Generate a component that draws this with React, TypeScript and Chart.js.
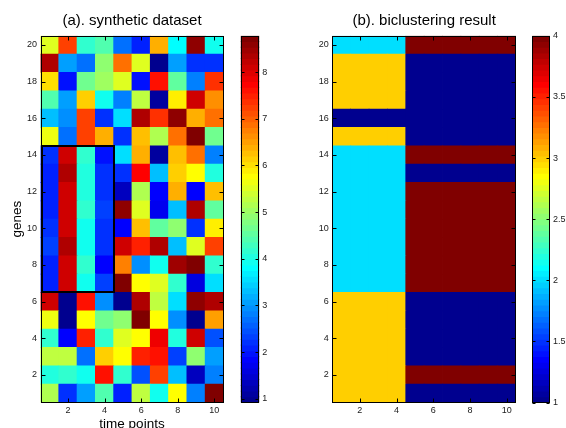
import React, { useEffect, useRef } from 'react';
import { Chart, registerables } from 'chart.js';

Chart.register(...registerables);

const FONT = '"Liberation Sans", Arial, Helvetica, sans-serif';
const TEXT = '#1a1a1a';

// ---------- data ----------
const timePoints = [1, 2, 3, 4, 5, 6, 7, 8, 9, 10];
const geneRows = [20, 19, 18, 17, 16, 15, 14, 13, 12, 11, 10, 9, 8, 7, 6, 5, 4, 3, 2, 1];
const xTickValues = [2, 4, 6, 8, 10];
const yTickValues = [2, 4, 6, 8, 10, 12, 14, 16, 18, 20];

// (a) synthetic dataset, one row per gene (gene 20 first)
const syntheticValues: number[][] = [
  [5.48, 7.21, 4.22, 4.38, 2.73, 2.10, 6.34, 3.75, 8.62, 3.87],
  [8.31, 3.04, 2.73, 4.93, 6.82, 5.56, 0.95, 3.04, 2.18, 2.26],
  [6.03, 1.94, 4.69, 5.01, 5.48, 1.94, 7.60, 4.54, 2.81, 7.37],
  [4.38, 3.04, 6.11, 3.87, 2.81, 5.24, 1.08, 5.95, 8.07, 6.58],
  [3.28, 2.96, 7.29, 2.26, 3.59, 8.31, 7.37, 8.54, 6.34, 6.89],
  [5.64, 2.73, 7.21, 6.34, 2.26, 6.26, 5.16, 6.89, 8.78, 4.69],
  [2.18, 8.07, 4.22, 2.02, 3.51, 6.34, 1.16, 6.26, 6.89, 2.81],
  [2.10, 8.31, 4.06, 2.26, 2.18, 7.68, 3.28, 6.11, 5.83, 4.06],
  [2.10, 8.15, 4.06, 2.26, 1.39, 5.16, 1.90, 6.42, 1.78, 6.26],
  [2.10, 8.15, 4.14, 2.33, 8.54, 5.48, 1.71, 3.36, 8.31, 4.54],
  [2.26, 8.07, 3.87, 2.26, 1.90, 6.26, 4.54, 4.93, 2.18, 5.95],
  [2.33, 8.31, 3.87, 2.26, 8.15, 7.52, 8.39, 3.28, 5.56, 7.21],
  [2.10, 8.15, 4.14, 1.90, 6.74, 2.89, 3.87, 8.43, 8.78, 4.14],
  [2.10, 8.15, 3.87, 2.33, 8.78, 5.83, 5.56, 4.22, 1.55, 3.51],
  [8.15, 0.95, 7.60, 2.96, 0.95, 8.39, 5.24, 3.59, 8.54, 8.31],
  [5.64, 0.95, 5.71, 4.69, 4.85, 8.78, 5.71, 2.96, 0.95, 6.50],
  [4.22, 1.78, 7.52, 4.22, 5.48, 5.71, 7.80, 4.06, 8.07, 2.49],
  [5.24, 5.24, 2.73, 6.11, 5.83, 7.52, 7.60, 2.33, 4.85, 3.04],
  [4.06, 4.14, 3.87, 7.60, 4.22, 2.49, 7.29, 3.28, 1.31, 2.81],
  [5.16, 2.18, 3.04, 4.46, 2.10, 5.24, 3.99, 5.71, 2.81, 8.78],
];

// (b) biclustering result, one row per gene (gene 20 first)
const biclusterValues: number[][] = [
  [2, 2, 2, 2, 4, 4, 4, 4, 4, 4],
  [3, 3, 3, 3, 1, 1, 1, 1, 1, 1],
  [3, 3, 3, 3, 1, 1, 1, 1, 1, 1],
  [3, 3, 3, 3, 1, 1, 1, 1, 1, 1],
  [1, 1, 1, 1, 1, 1, 1, 1, 1, 1],
  [3, 3, 3, 3, 1, 1, 1, 1, 1, 1],
  [2, 2, 2, 2, 4, 4, 4, 4, 4, 4],
  [2, 2, 2, 2, 1, 1, 1, 1, 1, 1],
  [2, 2, 2, 2, 4, 4, 4, 4, 4, 4],
  [2, 2, 2, 2, 4, 4, 4, 4, 4, 4],
  [2, 2, 2, 2, 4, 4, 4, 4, 4, 4],
  [2, 2, 2, 2, 4, 4, 4, 4, 4, 4],
  [2, 2, 2, 2, 4, 4, 4, 4, 4, 4],
  [2, 2, 2, 2, 4, 4, 4, 4, 4, 4],
  [3, 3, 3, 3, 1, 1, 1, 1, 1, 1],
  [3, 3, 3, 3, 1, 1, 1, 1, 1, 1],
  [3, 3, 3, 3, 1, 1, 1, 1, 1, 1],
  [3, 3, 3, 3, 1, 1, 1, 1, 1, 1],
  [3, 3, 3, 3, 4, 4, 4, 4, 4, 4],
  [3, 3, 3, 3, 1, 1, 1, 1, 1, 1],
];

const syntheticRange = [0.92, 8.78];
const syntheticBarTicks = [1, 2, 3, 4, 5, 6, 7, 8];
const syntheticBarLabels = ['1', '2', '3', '4', '5', '6', '7', '8'];
const resultRange = [1, 4];
const resultBarTicks = [1, 1.5, 2, 2.5, 3, 3.5, 4];
const resultBarLabels = ['1', '1.5', '2', '2.5', '3', '3.5', '4'];
const highlightedBicluster = { firstColumn: 1, lastColumn: 4, firstGene: 7, lastGene: 14 };

// ---------- MATLAB jet(64) ----------
const JET_LEVELS = 64;
function jetU(j: number) {
  if (j < 1 || j > 47) return 0;
  if (j <= 16) return j / 16;
  if (j <= 31) return 1;
  return (48 - j) / 16;
}
function jet(k: number) {
  const r = jetU(k - 24), g = jetU(k - 8), b = jetU(k + 8);
  return `rgb(${Math.round(r * 255)},${Math.round(g * 255)},${Math.round(b * 255)})`;
}
function colorFor(v: number, lo: number, hi: number) {
  let k = Math.floor(((v - lo) / (hi - lo)) * JET_LEVELS) + 1;
  k = Math.max(1, Math.min(JET_LEVELS, k));
  return jet(k);
}

// ---------- geometry ----------
const PLOT_TOP = 35.8;
const PLOT_BOTTOM = 402.5;
const CANVAS_H = 440;

function makeFramePlugin(cfg: { xTicks: boolean; tickLength: number; highlight?: typeof highlightedBicluster }) {
  return {
    id: 'matlabFrame',
    afterDatasetsDraw(chart: any) {
      const { ctx, chartArea: a, scales } = chart;
      const L = Math.round(a.left) + 0.5;
      const R = Math.round(a.right) - 0.5;
      const T = Math.round(a.top) + 0.5;
      const B = Math.round(a.bottom) - 0.5;
      const tl = cfg.tickLength;
      ctx.save();
      ctx.strokeStyle = '#000';
      ctx.lineWidth = 1;
      ctx.beginPath();
      if (cfg.xTicks) {
        scales.x.ticks.forEach((t: any) => {
          const px = Math.round(scales.x.getPixelForValue(t.value)) + 0.5;
          ctx.moveTo(px, B); ctx.lineTo(px, B - tl);
          ctx.moveTo(px, T); ctx.lineTo(px, T + tl);
        });
      }
      scales.y.ticks.forEach((t: any) => {
        const py = Math.round(scales.y.getPixelForValue(t.value)) + 0.5;
        ctx.moveTo(L, py); ctx.lineTo(L + tl, py);
        ctx.moveTo(R, py); ctx.lineTo(R - tl, py);
      });
      ctx.stroke();
      ctx.strokeRect(L, T, R - L, B - T);
      if (cfg.highlight) {
        const h = cfg.highlight;
        const x0 = scales.x.getPixelForValue(h.firstColumn - 0.5);
        const x1 = scales.x.getPixelForValue(h.lastColumn + 0.5);
        const y0 = scales.y.getPixelForValue(h.lastGene + 0.5);
        const y1 = scales.y.getPixelForValue(h.firstGene - 0.5);
        ctx.lineWidth = 2;
        ctx.strokeRect(Math.round(x0) + 1, Math.round(y0), Math.round(x1) - Math.round(x0) - 1, Math.round(y1) - Math.round(y0));
      }
      ctx.restore();
    },
  };
}

function heatmapConfig(p: {
  values: number[][]; range: number[]; title: string; yWidth: number; padRight: number;
  xTitle?: string; yTitle?: string; highlight?: typeof highlightedBicluster;
}) {
  const cells: any[] = [];
  const colors: string[] = [];
  p.values.forEach((row, i) => {
    const gene = geneRows[i];
    row.forEach((v, j) => {
      cells.push({ x: timePoints[j], y: [gene - 0.5, gene + 0.5] });
      colors.push(colorFor(v, p.range[0], p.range[1]));
    });
  });
  const tickFont = { family: FONT, size: 9 };
  const labelFont = { family: FONT, size: 13.5 };
  return {
    type: 'bar',
    data: {
      datasets: [{
        data: cells, backgroundColor: colors, borderWidth: 0,
        barPercentage: 1, categoryPercentage: 1, inflateAmount: 0.4,
      }],
    },
    options: {
      responsive: false, animation: false, events: [],
      layout: { padding: { left: 0, right: p.padRight, top: 0, bottom: 0 } },
      plugins: {
        legend: { display: false },
        tooltip: { enabled: false },
        title: {
          display: true, text: p.title, fullSize: false, color: '#000',
          font: { family: FONT, size: 15, weight: 'normal' },
          padding: { top: 11.5, bottom: 6.3 },
        },
      },
      scales: {
        x: {
          type: 'linear', min: 0.5, max: 10.5, offset: false,
          grid: { display: false, drawTicks: false, offset: false },
          border: { display: false },
          afterBuildTicks: (s: any) => { s.ticks = xTickValues.map((v) => ({ value: v })); },
          afterFit: (s: any) => { s.height = CANVAS_H - PLOT_BOTTOM; },
          ticks: { font: tickFont, color: TEXT, padding: 3, maxRotation: 0, autoSkip: false, callback: (v: any) => String(v) },
          title: { display: !!p.xTitle, text: p.xTitle || '', color: '#000', font: labelFont, padding: { top: 0, bottom: 7.9 } },
        },
        y: {
          type: 'linear', min: 0.5, max: 20.5,
          grid: { display: false, drawTicks: false },
          border: { display: false },
          afterBuildTicks: (s: any) => { s.ticks = yTickValues.map((v) => ({ value: v })); },
          afterFit: (s: any) => { s.width = p.yWidth; },
          ticks: { font: tickFont, color: TEXT, padding: 3.5, autoSkip: false, callback: (v: any) => String(v) },
          title: { display: !!p.yTitle, text: p.yTitle || '', color: '#000', font: labelFont, padding: { top: 8.9, bottom: 0 } },
        },
      },
    },
    plugins: [makeFramePlugin({ xTicks: true, tickLength: 4, highlight: p.highlight })],
  };
}

function colorbarConfig(p: { range: number[]; ticks: number[]; labels: string[]; padLeft: number; yWidth: number }) {
  const bands: any[] = [];
  const colors: string[] = [];
  const step = (p.range[1] - p.range[0]) / JET_LEVELS;
  for (let k = 1; k <= JET_LEVELS; k++) {
    const lo = p.range[0] + (k - 1) * step;
    bands.push({ x: 1, y: [lo, lo + step] });
    colors.push(jet(k));
  }
  return {
    type: 'bar',
    data: {
      datasets: [{
        data: bands, backgroundColor: colors, borderWidth: 0,
        barPercentage: 1, categoryPercentage: 1, inflateAmount: 0.4,
      }],
    },
    options: {
      responsive: false, animation: false, events: [],
      layout: { padding: { left: p.padLeft, right: 0, top: PLOT_TOP, bottom: CANVAS_H - PLOT_BOTTOM } },
      plugins: { legend: { display: false }, tooltip: { enabled: false }, title: { display: false } },
      scales: {
        x: {
          type: 'linear', display: false, min: 0.5, max: 1.5, offset: false,
          grid: { offset: false },
          afterBuildTicks: (s: any) => { s.ticks = [{ value: 1 }]; },
        },
        y: {
          type: 'linear', position: 'right', min: p.range[0], max: p.range[1],
          grid: { display: false, drawTicks: false },
          border: { display: false },
          afterBuildTicks: (s: any) => { s.ticks = p.ticks.map((v) => ({ value: v })); },
          afterFit: (s: any) => { s.width = p.yWidth; },
          ticks: {
            font: { family: FONT, size: 9 }, color: TEXT, padding: 3, autoSkip: false,
            callback: (_v: any, i: number) => p.labels[i],
          },
        },
      },
    },
    plugins: [makeFramePlugin({ xTicks: false, tickLength: 3 })],
  };
}

function ChartCanvas({ left, width, makeConfig }: { left: number; width: number; makeConfig: () => any }) {
  const ref = useRef<HTMLCanvasElement>(null);
  useEffect(() => {
    const chart = new Chart(ref.current as HTMLCanvasElement, makeConfig());
    return () => chart.destroy();
  }, []);
  return (
    <canvas
      ref={ref}
      width={width}
      height={CANVAS_H}
      style={{ position: 'absolute', left, top: 0, width, height: CANVAS_H }}
    />
  );
}

export default function App() {
  return (
    <div style={{ position: 'fixed', left: 0, top: 0, width: 566, height: 428, overflow: 'hidden', background: '#fff' }}>
      <ChartCanvas
        left={0}
        width={240}
        makeConfig={() => heatmapConfig({
          values: syntheticValues, range: syntheticRange, title: '(a). synthetic dataset',
          yWidth: 40.5, padRight: 16.5, xTitle: 'time points', yTitle: 'genes', highlight: highlightedBicluster,
        })}
      />
      <ChartCanvas
        left={236}
        width={60}
        makeConfig={() => colorbarConfig({
          range: syntheticRange, ticks: syntheticBarTicks, labels: syntheticBarLabels, padLeft: 4.7, yWidth: 36.7,
        })}
      />
      <ChartCanvas
        left={290}
        width={240}
        makeConfig={() => heatmapConfig({
          values: biclusterValues, range: resultRange, title: '(b). biclustering result',
          yWidth: 42.3, padRight: 14,
        })}
      />
      <ChartCanvas
        left={528}
        width={38}
        makeConfig={() => colorbarConfig({
          range: resultRange, ticks: resultBarTicks, labels: resultBarLabels, padLeft: 4.3, yWidth: 16,
        })}
      />
    </div>
  );
}
